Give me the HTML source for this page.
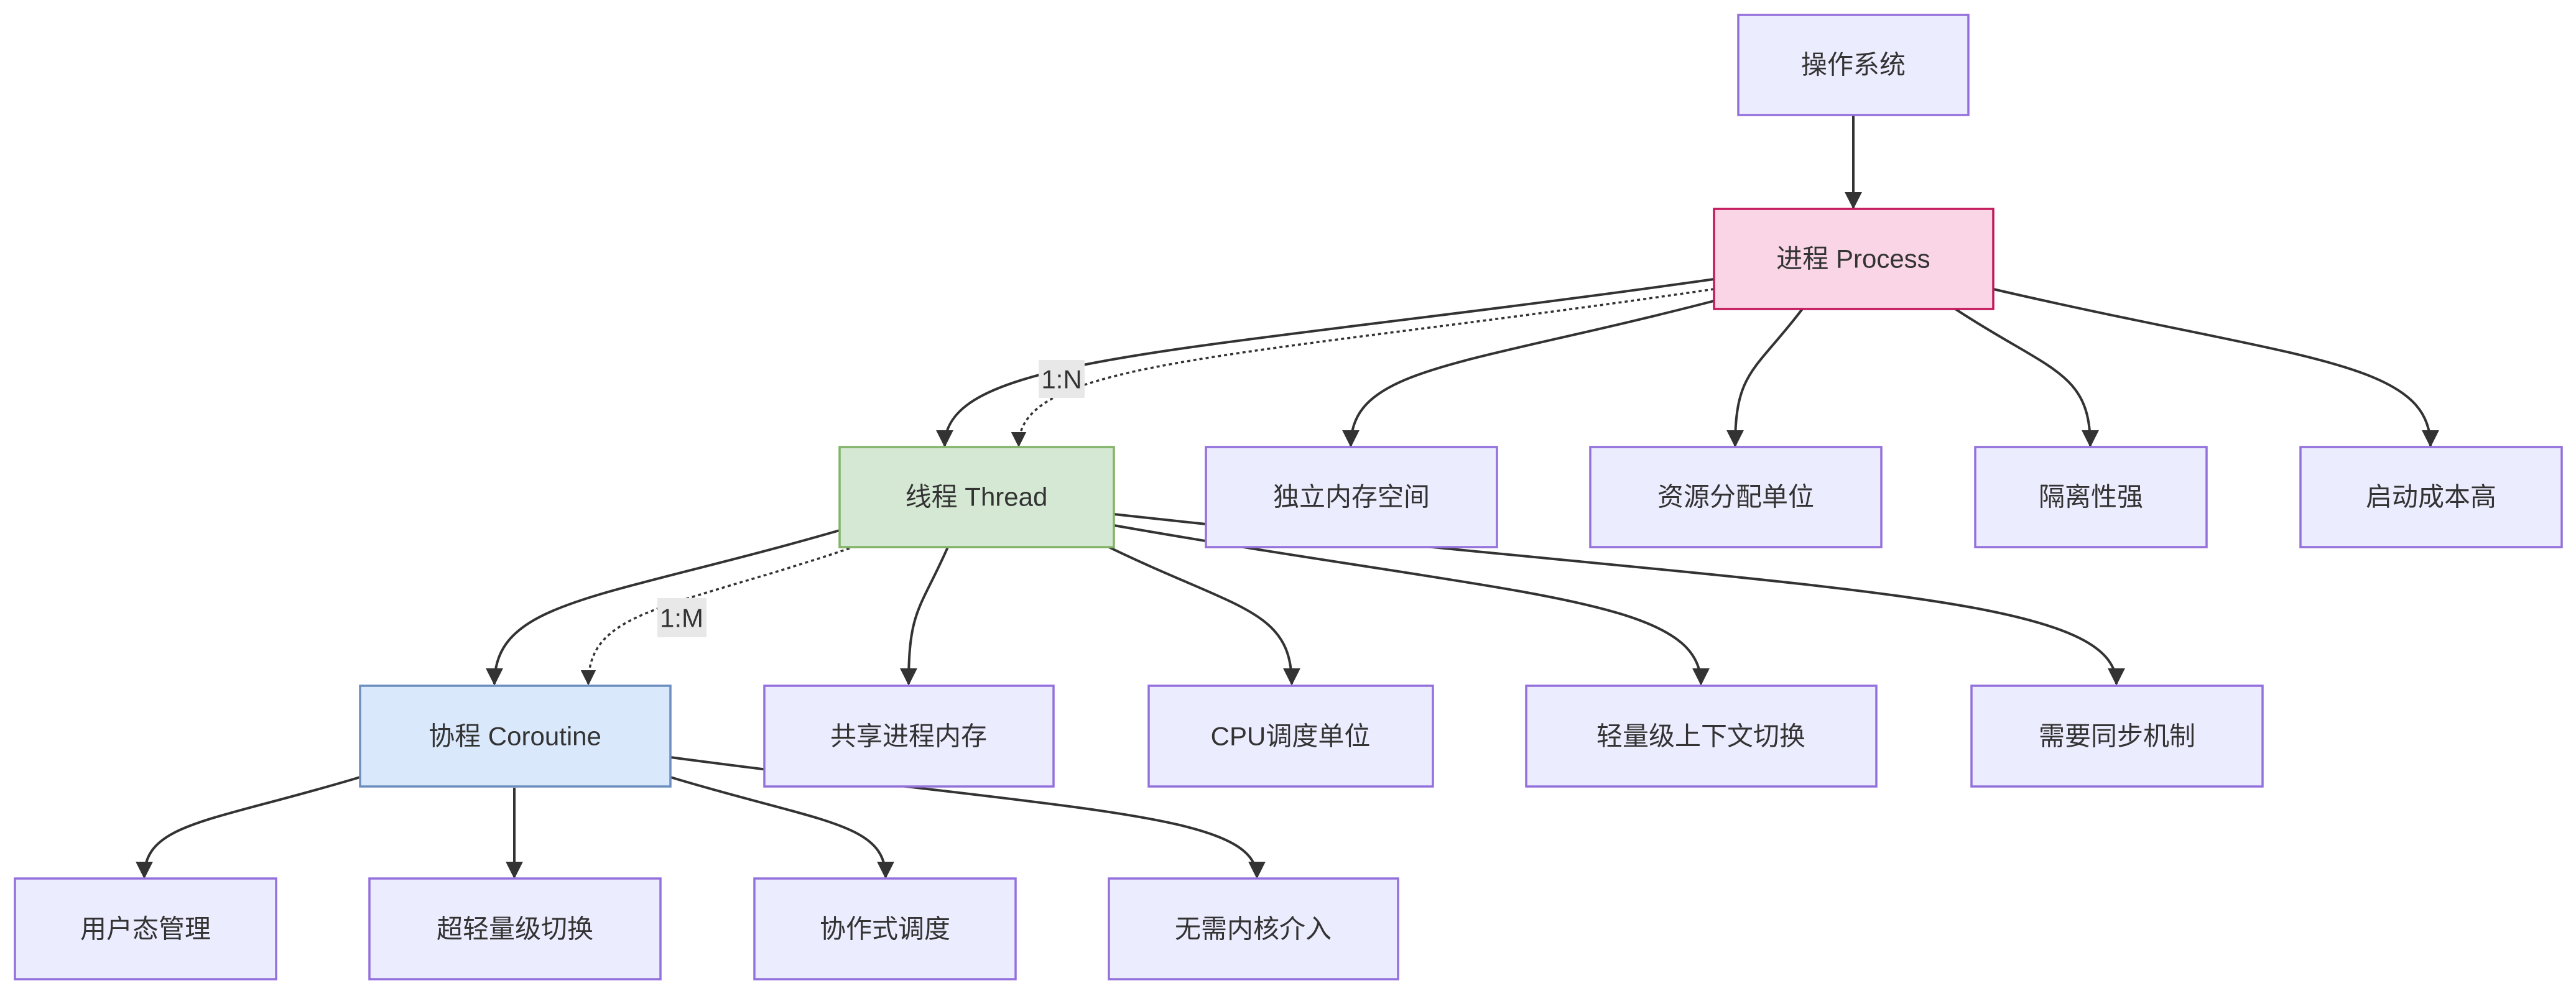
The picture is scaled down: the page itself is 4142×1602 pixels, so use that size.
<!DOCTYPE html>
<html><head><meta charset="utf-8"><style>
html,body{margin:0;padding:0;background:#fff;}
svg{display:block;}
text{font-family:"Liberation Sans","Noto Sans CJK SC",sans-serif;font-size:42px;fill:#333;}
</style></head><body>
<svg width="4142" height="1602" viewBox="0 0 4142 1602" xmlns="http://www.w3.org/2000/svg">
<defs>
<marker id="a" viewBox="0 0 10 10" refX="9" refY="5" markerWidth="7" markerHeight="7" markerUnits="strokeWidth" orient="auto">
<path d="M0,0 L10,5 L0,10 z" fill="#333"/>
</marker>
</defs>
<g fill="none" stroke="#333" stroke-width="4" marker-end="url(#a)">
<path d="M2980,185 L2980,334"/>
<path d="M2756,449 C1890,571 1519,571 1519,717"/>
<path d="M2756,465 C1973,579 1638,579 1638,717" stroke-dasharray="5,5" stroke-width="3.5"/>
<path d="M2756,484 C2347,590 2172,590 2172,717"/>
<path d="M2898,497 C2822,597 2790,597 2790,717"/>
<path d="M3144,497 C3296,597 3361,597 3361,717"/>
<path d="M3205,465 C3697,579 3908,579 3908,717"/>
<path d="M1350,853 C962,965 795,965 795,1100"/>
<path d="M1366,882 C1072,981 946,981 946,1100" stroke-dasharray="5,5" stroke-width="3.5"/>
<path d="M1524,880 C1480,980 1461,980 1461,1100"/>
<path d="M1783,880 C1989,980 2077,980 2077,1100"/>
<path d="M1791,845 C2452,961 2735,961 2735,1100"/>
<path d="M1791,827 C2919,951 3403,951 3403,1100"/>
<path d="M579,1250 C336,1323 232,1323 232,1411"/>
<path d="M827,1267 L827,1411"/>
<path d="M1078,1250 C1320,1323 1424,1323 1424,1411"/>
<path d="M1078,1218 C1738,1306 2021,1306 2021,1411"/>
</g>
<rect x="1670" y="579" width="74" height="61" fill="#e8e8e8"/>
<text x="1707" y="610" text-anchor="middle" dominant-baseline="central">1:N</text>
<rect x="1057" y="962" width="79" height="63" fill="#e8e8e8"/>
<text x="1096" y="994" text-anchor="middle" dominant-baseline="central">1:M</text>
<g stroke-width="3.5">
<rect x="2795" y="24" width="370" height="161" fill="#ECECFF" stroke="#9370DB"/>
<rect x="2756" y="336" width="449" height="161" fill="#f9d5e5" stroke="#c2185b"/>
<rect x="1350" y="719" width="441" height="161" fill="#d5e8d4" stroke="#82b366"/>
<rect x="1939" y="719" width="468" height="161" fill="#ECECFF" stroke="#9370DB"/>
<rect x="2557" y="719" width="468" height="161" fill="#ECECFF" stroke="#9370DB"/>
<rect x="3176" y="719" width="372" height="161" fill="#ECECFF" stroke="#9370DB"/>
<rect x="3699" y="719" width="420" height="161" fill="#ECECFF" stroke="#9370DB"/>
<rect x="579" y="1103" width="499" height="162" fill="#dae8fc" stroke="#6c8ebf"/>
<rect x="1229" y="1103" width="465" height="162" fill="#ECECFF" stroke="#9370DB"/>
<rect x="1847" y="1103" width="457" height="162" fill="#ECECFF" stroke="#9370DB"/>
<rect x="2454" y="1103" width="563" height="162" fill="#ECECFF" stroke="#9370DB"/>
<rect x="3170" y="1103" width="468" height="162" fill="#ECECFF" stroke="#9370DB"/>
<rect x="24" y="1413" width="420" height="162" fill="#ECECFF" stroke="#9370DB"/>
<rect x="594" y="1413" width="468" height="162" fill="#ECECFF" stroke="#9370DB"/>
<rect x="1213" y="1413" width="420" height="162" fill="#ECECFF" stroke="#9370DB"/>
<rect x="1783" y="1413" width="465" height="162" fill="#ECECFF" stroke="#9370DB"/>
</g>
<g text-anchor="middle" dominant-baseline="central">
<text x="2980" y="104">操作系统</text>
<text x="2980" y="416">进程 Process</text>
<text x="1570" y="799">线程 Thread</text>
<text x="2173" y="799">独立内存空间</text>
<text x="2791" y="799">资源分配单位</text>
<text x="3362" y="799">隔离性强</text>
<text x="3909" y="799">启动成本高</text>
<text x="828" y="1184">协程 Coroutine</text>
<text x="1461" y="1184">共享进程内存</text>
<text x="2075" y="1184">CPU调度单位</text>
<text x="2735" y="1184">轻量级上下文切换</text>
<text x="3404" y="1184">需要同步机制</text>
<text x="234" y="1494">用户态管理</text>
<text x="828" y="1494">超轻量级切换</text>
<text x="1423" y="1494">协作式调度</text>
<text x="2015" y="1494">无需内核介入</text>
</g>
</svg>
</body></html>
